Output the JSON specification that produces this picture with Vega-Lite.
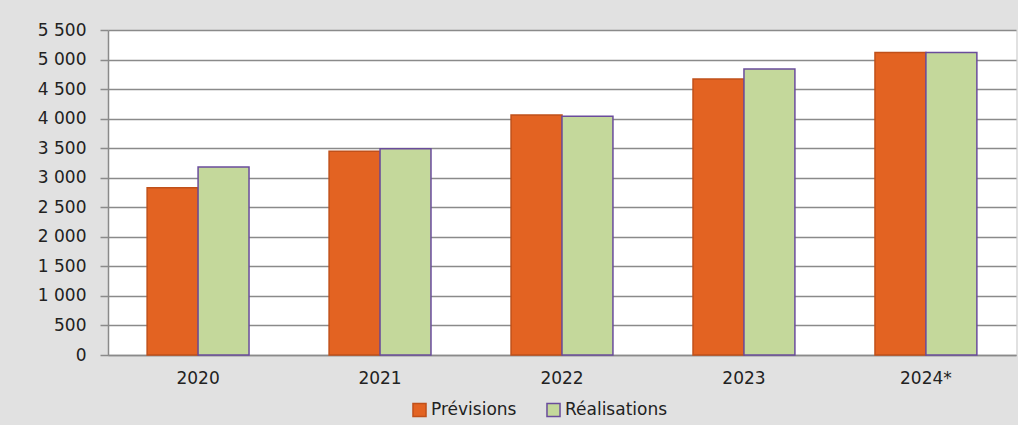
{
  "$schema": "https://vega.github.io/schema/vega-lite/v6.json",
  "width": 908,
  "height": 325,
  "autosize": "none",
  "padding": {"left": 108, "top": 30, "right": 2, "bottom": 70},
  "background": "#e1e1e1",
  "config": {
    "font": "DejaVu Sans",
    "view": {"fill": "white", "stroke": null}
  },
  "data": {
    "values": [
      {"annee": "2020", "serie": "Prévisions", "valeur": 2830},
      {"annee": "2020", "serie": "Réalisations", "valeur": 3180},
      {"annee": "2021", "serie": "Prévisions", "valeur": 3450},
      {"annee": "2021", "serie": "Réalisations", "valeur": 3490},
      {"annee": "2022", "serie": "Prévisions", "valeur": 4060},
      {"annee": "2022", "serie": "Réalisations", "valeur": 4040},
      {"annee": "2023", "serie": "Prévisions", "valeur": 4670},
      {"annee": "2023", "serie": "Réalisations", "valeur": 4840},
      {"annee": "2024*", "serie": "Prévisions", "valeur": 5120},
      {"annee": "2024*", "serie": "Réalisations", "valeur": 5120}
    ]
  },
  "mark": {"type": "bar", "strokeWidth": 1.5},
  "encoding": {
    "x": {
      "field": "annee",
      "type": "nominal",
      "sort": null,
      "title": null,
      "scale": {"paddingInner": 0.44, "paddingOuter": 0.215},
      "axis": {
        "labelAngle": 0,
        "labelFontSize": 17,
        "labelColor": "#222222",
        "labelPadding": 15,
        "ticks": false,
        "domainColor": "#8a8a8a",
        "domainWidth": 1.5
      }
    },
    "xOffset": {
      "field": "serie",
      "type": "nominal",
      "sort": ["Prévisions", "Réalisations"],
      "scale": {"paddingInner": 0, "paddingOuter": 0}
    },
    "y": {
      "field": "valeur",
      "type": "quantitative",
      "title": null,
      "scale": {"domain": [0, 5500], "nice": false},
      "axis": {
        "values": [0, 500, 1000, 1500, 2000, 2500, 3000, 3500, 4000, 4500, 5000, 5500],
        "labelExpr": "replace(format(datum.value, ','), ',', ' ')",
        "labelFontSize": 17,
        "labelColor": "#222222",
        "labelPadding": 14,
        "tickSize": 8,
        "tickColor": "#8a8a8a",
        "tickWidth": 1.5,
        "domainColor": "#8a8a8a",
        "domainWidth": 1.5,
        "gridColor": "#8a8a8a",
        "gridWidth": 1.5
      }
    },
    "color": {
      "field": "serie",
      "type": "nominal",
      "scale": {"domain": ["Prévisions", "Réalisations"], "range": ["#E36322", "#C4D89B"]},
      "legend": {
        "title": null,
        "orient": "none",
        "direction": "horizontal",
        "legendX": 303,
        "legendY": 371,
        "symbolType": "square",
        "symbolSize": 170,
        "symbolStrokeWidth": 1.5,
        "labelFontSize": 17,
        "labelColor": "#222222",
        "labelOffset": 3,
        "columnPadding": 26
      }
    },
    "stroke": {
      "field": "serie",
      "type": "nominal",
      "scale": {"domain": ["Prévisions", "Réalisations"], "range": ["#C0501A", "#6A4C9C"]},
      "legend": null
    }
  }
}
